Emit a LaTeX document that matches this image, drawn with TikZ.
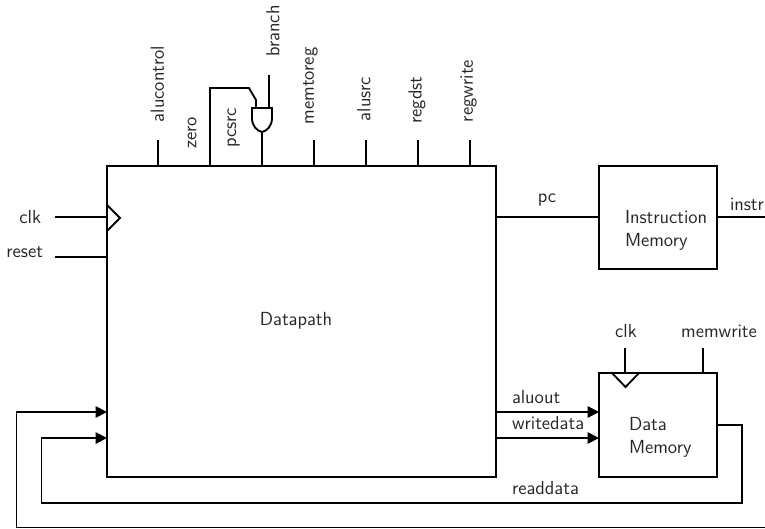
\documentclass[tikz,border=0pt]{standalone}
\usetikzlibrary{arrows.meta}
\renewcommand{\familydefault}{\sfdefault}
\tikzset{
  x=0.75pt,y=-0.75pt,
  wire/.style={line width=1.4pt,line join=miter},
  arrowwire/.style={wire,-{Triangle[length=8.5pt,width=8.5pt]}},
  blockbox/.style={draw,line width=1.4pt,inner sep=0pt,outer sep=0pt},
  txt/.style={inner sep=0pt,outer sep=0pt,font=\fontsize{14.2pt}{17.4pt}\selectfont,text=black!85},
  vtxt/.style={txt,rotate=90},
}
\begin{document}
\begin{tikzpicture}
\useasboundingbox (0,0) rectangle (765,529);
\clip (0,0) rectangle (765,529);
% blocks
\node[blockbox,minimum width=291.75pt,minimum height=233.25pt] (dp) at (301.5,321.5) {};
\node[blockbox,minimum width=88.5pt,minimum height=77.25pt] (im) at (658,217.5) {};
\node[blockbox,minimum width=88.5pt,minimum height=78pt] (dm) at (658,425) {};
% block texts
\node[txt] (dplabel) at (296,321) {Datapath};
\node[txt,align=left,anchor=west] (imlabel) at (625,230) {Instruction\\Memory};
\node[txt,align=left,anchor=west] (dmlabel) at (629,437) {Data\\Memory};
% top control ticks
\node[vtxt] (alucontrol) at (157.5,84) {alucontrol};
\node[vtxt] (zero) at (192,133) {zero};
\node[vtxt] (pcsrc) at (233.5,128) {pcsrc};
\node[vtxt] (branch) at (273,31) {branch};
\node[vtxt] (memtoreg) at (310.5,86) {memtoreg};
\node[vtxt] (alusrc) at (364,99) {alusrc};
\node[vtxt] (regdst) at (417,100) {regdst};
\node[vtxt] (regwrite) at (468.5,91) {regwrite};
\coordinate (t1) at (158,140);
\coordinate (t4) at (314,140);
\coordinate (t5) at (366,140);
\coordinate (t6) at (418,140);
\coordinate (t7) at (470,140);
\foreach \c in {t1,t4,t5,t6,t7} \draw[wire] (\c) -- (\c |- dp.north);
% AND gate
\coordinate (gatetl) at (252,108);
\coordinate (gatetr) at (272,108);
\coordinate (gateout) at (262,132);
\coordinate (zerotop) at (210,88);
\coordinate (zerobend) at (249,88);
\coordinate (gatein) at (256,108);
\coordinate (branchin) at (269,108);
\coordinate (branchtop) at (269,75);
\draw[wire] (gatetl) -- (gatetr) -- (272,118) .. controls (272,126) and (267,131) .. (gateout)
  .. controls (257,131) and (252,126) .. (252,118) -- cycle;
\draw[wire] (gateout) -- (gateout |- dp.north);
\draw[wire] (zerotop |- dp.north) -- (zerotop) -- (zerobend) -- (256,100) -- (gatein);
\draw[wire] (branchtop) -- (branchin);
% left inputs
\node[txt,anchor=east] (clklabel) at (41,217) {clk};
\node[txt,anchor=east] (resetlabel) at (43,252) {reset};
\coordinate (clkstart) at (55,217);
\coordinate (resetstart) at (55,257);
\draw[wire] (clkstart) -- (clkstart -| dp.west);
\draw[wire] (resetstart) -- (resetstart -| dp.west);
\coordinate (ck1a) at (107,205);
\coordinate (ck1b) at (120,218);
\coordinate (ck1c) at (107,231);
\draw[wire] (ck1a) -- (ck1b) -- (ck1c);
% pc and instr
\coordinate (pcstart) at (496,217);
\draw[wire] (pcstart) -- (pcstart -| im.west);
\node[txt] (pclabel) at (547,200) {pc};
\coordinate (instrend) at (765,217);
\draw[wire] (instrend -| im.east) -- (instrend);
\node[txt,anchor=west] (instrlabel) at (730,204) {instr};
% data memory
\node[txt] (clkdm) at (626,331) {clk};
\node[txt] (memwrite) at (719,331) {memwrite};
\coordinate (dmclk) at (625,348);
\coordinate (dmmw) at (703,348);
\draw[wire] (dmclk) -- (dmclk |- dm.north);
\draw[wire] (dmmw) -- (dmmw |- dm.north);
\coordinate (ck2a) at (612,373);
\coordinate (ck2b) at (625.5,387);
\coordinate (ck2c) at (639,373);
\draw[wire] (ck2a) -- (ck2b) -- (ck2c);
\coordinate (aluoutstart) at (496,412);
\coordinate (wdstart) at (496,438);
\draw[arrowwire] (aluoutstart) -- (aluoutstart -| dm.west);
\draw[arrowwire] (wdstart) -- (wdstart -| dm.west);
\node[txt,anchor=west] (aluout) at (512,397) {aluout};
\node[txt,anchor=west] (writedata) at (512,423) {writedata};
\node[txt,anchor=west] (readdata) at (512,488) {readdata};
% feedback
\coordinate (rdout) at (717,425);
\coordinate (rdright) at (742,425);
\coordinate (rdbr) at (742,503);
\coordinate (rdbl) at (41.5,503);
\coordinate (rdtl) at (41.5,438);
\draw[arrowwire] (rdout -| dm.east) -- (rdright) -- (rdbr) -- (rdbl) -- (rdtl) -- (rdtl -| dp.west);
\coordinate (outerr) at (766,527.5);
\coordinate (outerl) at (16.5,527.5);
\coordinate (outert) at (16.5,412);
\draw[arrowwire] (outerr) -- (outerl) -- (outert) -- (outert -| dp.west);
\end{tikzpicture}
\end{document}
